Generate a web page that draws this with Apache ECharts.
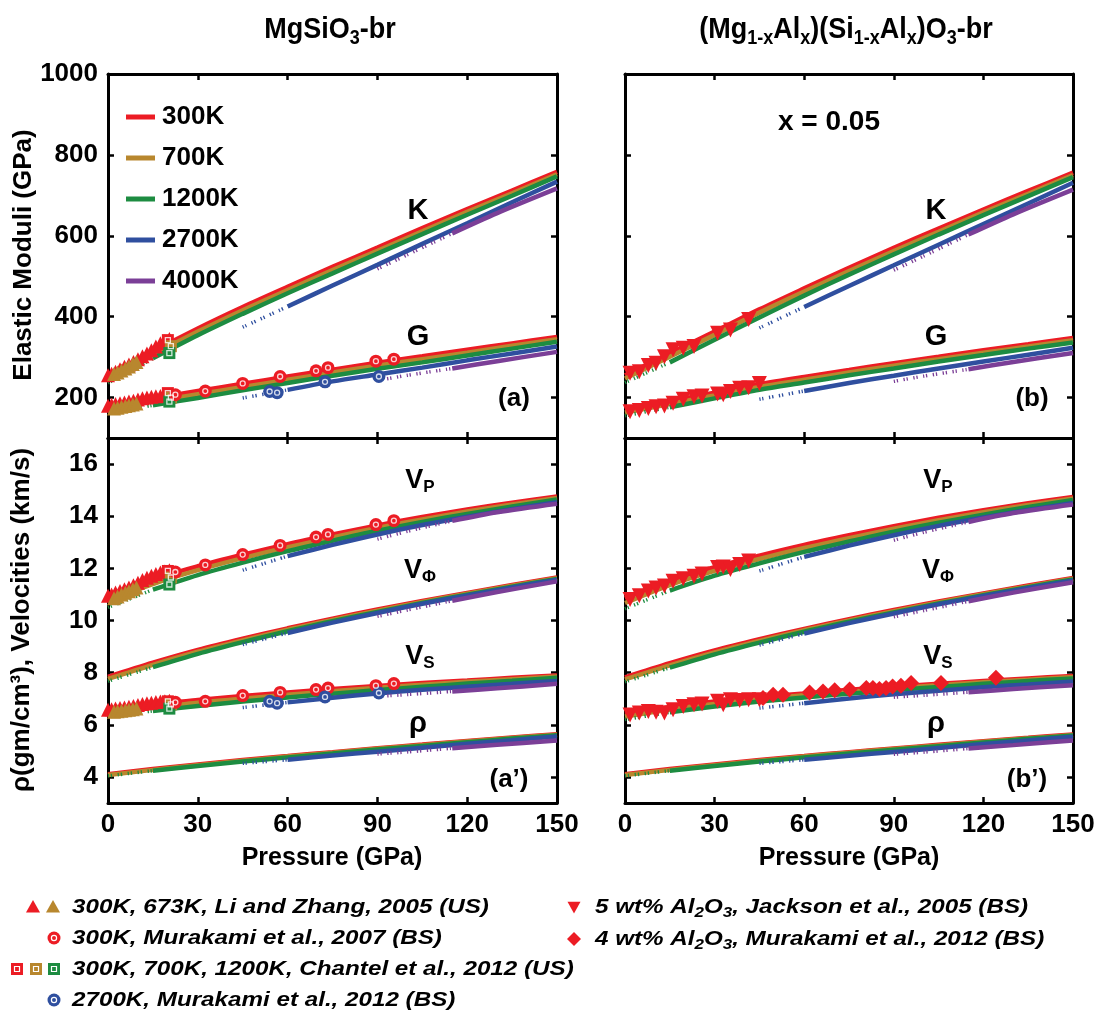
<!DOCTYPE html>
<html><head><meta charset="utf-8">
<script src="https://cdn.jsdelivr.net/npm/echarts@6/dist/echarts.min.js"></script>
<style>html,body{margin:0;padding:0;background:#fff}#chart{width:1106px;height:1017px}</style>
</head><body><div id="chart"></div>
<script>
// ---------- model curves: pressure grids (GPa) ----------
const P_COOL = [0, 15, 30, 45, 60, 75, 90, 105, 120, 135, 150];   // 300K, 700K, 1200K
const P_2700 = [45, 60, 75, 90, 105, 120, 135, 150];
const P_4000 = [90, 100, 115, 130, 150];
const TEMPS = ['300K', '700K', '1200K', '2700K', '4000K'];
const SOLID_FROM = [0, 0, 15, 60, 115];   // below this pressure the curve is drawn dotted

// MgSiO3-br (rows: 300K, 700K, 1200K, 2700K, 4000K)
const K_mg = [
  [253, 314, 371, 424, 474, 523, 571, 619, 666, 712, 758],
  [245, 306, 363, 416, 466, 515, 563, 611, 659, 705, 752],
  [236, 297, 354, 407, 458, 507, 556, 604, 652, 699, 747],
  [374, 425, 477, 528, 580, 631, 683, 734],
  [518, 553, 606, 656, 717]
];
const G_mg = [
  [181, 198, 216, 234, 252, 269, 286, 302, 318, 334, 350],
  [172, 190, 208, 226, 244, 262, 279, 295, 311, 328, 344],
  [163, 181, 199, 218, 236, 254, 271, 287, 304, 321, 338],
  [199, 219, 240, 257, 274, 292, 309, 326],
  [242, 255, 272, 290, 313]
];
const VP_mg = [
  [10.93, 11.58, 12.08, 12.52, 12.93, 13.30, 13.65, 13.97, 14.26, 14.52, 14.76],
  [10.74, 11.40, 11.93, 12.39, 12.81, 13.19, 13.55, 13.88, 14.18, 14.45, 14.70],
  [10.50, 11.18, 11.74, 12.22, 12.66, 13.06, 13.44, 13.78, 14.09, 14.37, 14.64],
  [11.93, 12.47, 12.90, 13.30, 13.66, 13.98, 14.27, 14.54],
  [13.12, 13.42, 13.82, 14.15, 14.48]
];
const VPHI_mg = [
  [7.84, 8.38, 8.87, 9.30, 9.70, 10.07, 10.42, 10.75, 11.06, 11.36, 11.65],
  [7.76, 8.30, 8.80, 9.24, 9.65, 10.02, 10.38, 10.71, 11.03, 11.33, 11.62],
  [7.67, 8.21, 8.72, 9.17, 9.59, 9.97, 10.33, 10.67, 10.99, 11.30, 11.59],
  [9.08, 9.52, 9.92, 10.29, 10.64, 10.96, 11.27, 11.56],
  [10.16, 10.40, 10.76, 11.09, 11.50]
];
const VS_mg = [
  [6.55, 6.78, 6.95, 7.10, 7.24, 7.37, 7.49, 7.60, 7.70, 7.80, 7.89],
  [6.45, 6.66, 6.85, 7.00, 7.15, 7.29, 7.42, 7.54, 7.65, 7.75, 7.85],
  [6.32, 6.53, 6.72, 6.89, 7.05, 7.19, 7.33, 7.46, 7.58, 7.69, 7.80],
  [6.66, 6.86, 7.04, 7.20, 7.34, 7.46, 7.57, 7.68],
  [7.09, 7.16, 7.28, 7.40, 7.57]
];
const RHO_mg = [
  [4.10, 4.30, 4.48, 4.65, 4.80, 4.95, 5.10, 5.24, 5.38, 5.51, 5.64],
  [4.07, 4.27, 4.45, 4.62, 4.78, 4.93, 5.08, 5.22, 5.36, 5.49, 5.62],
  [4.04, 4.24, 4.42, 4.59, 4.75, 4.90, 5.05, 5.19, 5.33, 5.47, 5.60],
  [4.52, 4.66, 4.82, 4.97, 5.12, 5.27, 5.41, 5.55],
  [4.88, 4.96, 5.10, 5.23, 5.40]
];

// (Mg1-xAlx)(Si1-xAlx)O3-br, x = 0.05
const K_al = [
  [255, 309, 363, 418, 470, 521, 570, 618, 665, 711, 756],
  [247, 301, 355, 410, 462, 513, 562, 610, 658, 704, 750],
  [237, 287, 343, 398, 452, 504, 554, 603, 651, 698, 745],
  [372, 424, 476, 527, 578, 629, 680, 731],
  [515, 550, 603, 653, 714]
];
const G_al = [
  [170, 191, 212, 233, 251, 268, 285, 301, 317, 332, 347],
  [163, 184, 205, 226, 244, 262, 279, 295, 311, 326, 342],
  [155, 176, 198, 219, 237, 255, 272, 289, 305, 321, 336],
  [196, 216, 236, 254, 272, 289, 306, 323],
  [240, 253, 270, 288, 310]
];
const VP_al = [
  [10.85, 11.53, 12.05, 12.49, 12.90, 13.27, 13.62, 13.94, 14.23, 14.50, 14.74],
  [10.67, 11.36, 11.90, 12.36, 12.78, 13.16, 13.52, 13.85, 14.15, 14.43, 14.68],
  [10.45, 11.15, 11.72, 12.19, 12.63, 13.03, 13.41, 13.75, 14.06, 14.35, 14.62],
  [11.90, 12.44, 12.87, 13.27, 13.63, 13.95, 14.24, 14.51],
  [13.08, 13.38, 13.78, 14.12, 14.45]
];
const VPHI_al = [
  [7.82, 8.36, 8.85, 9.28, 9.68, 10.05, 10.40, 10.73, 11.04, 11.34, 11.63],
  [7.74, 8.28, 8.78, 9.22, 9.63, 10.00, 10.36, 10.69, 11.01, 11.31, 11.60],
  [7.65, 8.19, 8.70, 9.15, 9.57, 9.95, 10.31, 10.65, 10.97, 11.28, 11.57],
  [9.06, 9.50, 9.90, 10.27, 10.62, 10.94, 11.25, 11.54],
  [10.14, 10.38, 10.74, 11.07, 11.47]
];
const VS_al = [
  [6.40, 6.68, 6.89, 7.06, 7.20, 7.34, 7.46, 7.57, 7.68, 7.78, 7.87],
  [6.32, 6.59, 6.80, 6.98, 7.13, 7.27, 7.40, 7.52, 7.63, 7.73, 7.83],
  [6.20, 6.48, 6.70, 6.89, 7.05, 7.19, 7.33, 7.45, 7.57, 7.68, 7.78],
  [6.64, 6.83, 7.01, 7.17, 7.31, 7.44, 7.55, 7.66],
  [7.06, 7.13, 7.25, 7.37, 7.52]
];
const RHO_al = [
  [4.10, 4.30, 4.48, 4.65, 4.80, 4.95, 5.09, 5.23, 5.37, 5.50, 5.63],
  [4.07, 4.27, 4.45, 4.62, 4.78, 4.93, 5.07, 5.21, 5.35, 5.48, 5.61],
  [4.04, 4.24, 4.42, 4.59, 4.75, 4.90, 5.04, 5.18, 5.32, 5.46, 5.59],
  [4.52, 4.66, 4.81, 4.96, 5.11, 5.26, 5.40, 5.54],
  [4.87, 4.95, 5.09, 5.22, 5.40]
];

// ---------- measurements ----------
// Li and Zhang, 2005 (US), 300K and 673K
const LZ300_P  = [0, 1.2, 2.5, 4, 5.5, 7, 8.5, 10, 11.5, 13, 14.5, 16, 17.5, 19, 20.5];
const LZ300_K  = [255, 259, 264, 270, 276, 282, 288, 295, 302, 309, 317, 326, 334, 340, 345];
const LZ300_G  = [180, 182, 184, 186, 188, 190, 192, 195, 198, 200, 202, 203, 204, 205, 207];
const LZ300_VP = [10.95, 11.00, 11.07, 11.13, 11.20, 11.27, 11.35, 11.45, 11.55, 11.64, 11.72, 11.78, 11.84, 11.88, 11.93];
const LZ300_VS = [6.58, 6.60, 6.62, 6.64, 6.66, 6.69, 6.72, 6.76, 6.80, 6.83, 6.85, 6.87, 6.89, 6.90, 6.92];
const LZ673_P  = [2, 3.2, 4.5, 5.8, 7, 8.3, 9.5];
const LZ673_K  = [258, 262, 267, 272, 277, 283, 288];
const LZ673_G  = [173, 175, 177, 179, 181, 183, 185];
const LZ673_VP = [10.85, 10.92, 11.00, 11.06, 11.12, 11.20, 11.27];
const LZ673_VS = [6.50, 6.52, 6.54, 6.56, 6.58, 6.60, 6.62];
// Murakami et al., 2007 (BS), 300K
const M07_P  = [22.5, 32.5, 45, 57.5, 69.5, 73.5, 89.5, 95.5];
const M07_G  = [207, 216, 235, 252, 266, 274, 290, 295];
const M07_VP = [11.86, 12.13, 12.53, 12.88, 13.20, 13.30, 13.68, 13.83];
const M07_VS = [6.86, 6.90, 7.12, 7.24, 7.35, 7.41, 7.50, 7.58];
// Chantel et al., 2012 (US): 300K, 700K, 1200K
const CH_P  = [20, 21, 20.5];
const CH_K  = [342, 327, 310];
const CH_G  = [211, 200, 190];
const CH_VP = [11.90, 11.65, 11.38];
const CH_VS = [6.90, 6.78, 6.62];
// Murakami et al., 2012 (BS), 2700K
const M12_P  = [54, 56.5, 72.5, 90.5];
const M12_G  = [215, 212, 239, 252];
const M12_VS = [6.90, 6.83, 7.07, 7.22];
// Jackson et al., 2005 (BS), 5 wt% Al2O3
const JK_P  = [1.7, 4.8, 7.8, 10.4, 13.2, 16.1, 19.5, 23.1, 25.8, 31.0, 32.9, 35.3, 38.4, 41.4, 45.0];
const JK_K  = [260, 264, 279, 285, 301, 318, 322, 326, null, 359, null, 367, null, 393, null];
const JK_G  = [165, 168, 173, 177, 179, 186, 196, 202, 204, 209, 207, 215, 223, 224, 235];
const JK_VP = [10.81, 10.95, 11.13, 11.25, 11.32, 11.51, 11.60, 11.70, 11.78, 12.03, 12.05, 11.96, 12.15, 12.28, null];
const JK_VS = [6.38, 6.45, 6.51, 6.48, 6.45, 6.58, 6.70, 6.77, 6.80, 6.90, 6.77, 6.96, 6.93, 6.96, 6.96];
// Murakami et al., 2012 (BS), 4 wt% Al2O3
const MA_P  = [46.2, 49.6, 52.9, 61.8, 66.3, 70.2, 75.2, 80.8, 83.0, 85.2, 87.4, 89.6, 92.4, 95.8, 105.8, 124.2];
const MA_VS = [7.03, 7.15, 7.15, 7.24, 7.28, 7.32, 7.35, 7.41, 7.41, 7.37, 7.41, 7.47, 7.50, 7.60, 7.60, 7.80];

// axis ticks
const MOD_TICKS = [200, 400, 600, 800, 1000];
const VEL_TICKS = [4, 6, 8, 10, 12, 14, 16];

// ---------- styling ----------
const COLORS = ['#ec1c24', '#b8872e', '#1d8c41', '#2f4f9f', '#7b3f97'];
const RED = COLORS[0], TAN = COLORS[1], GREEN = COLORS[2], BLUE = COLORS[3];
const FONT = "'Liberation Sans', Arial, Helvetica, sans-serif";
const GRIDS = [
  { left: 108, top: 74, width: 449, height: 364 },   // (a)
  { left: 108, top: 438, width: 449, height: 365 },  // (a')
  { left: 625, top: 74, width: 448, height: 364 },   // (b)
  { left: 625, top: 438, width: 448, height: 365 }   // (b')
];

const xAxes = [], yAxes = [];
GRIDS.forEach((g, gi) => {
  const lower = gi % 2 === 1;
  const leftCol = gi < 2;
  ['bottom', 'top'].forEach(pos => {
    xAxes.push({
      type: 'value', gridIndex: gi, position: pos, min: 0, max: 150, interval: 30,
      axisLine: { show: true, onZero: false, lineStyle: { color: '#000', width: 3 } },
      axisTick: { show: true, inside: true, length: 6, lineStyle: { color: '#000', width: 2.5 } },
      axisLabel: {
        show: lower && pos === 'bottom', margin: 9, color: '#000',
        fontFamily: FONT, fontWeight: 'bold', fontSize: 26, formatter: v => String(v)
      },
      splitLine: { show: false }
    });
  });
  ['left', 'right'].forEach(pos => {
    const ticks = lower ? VEL_TICKS : MOD_TICKS;
    yAxes.push({
      type: 'value', gridIndex: gi, position: pos,
      min: lower ? 3 : 100, max: lower ? 17 : 1000,
      axisLine: { show: true, onZero: false, lineStyle: { color: '#000', width: 3 } },
      axisTick: { show: true, inside: true, length: 6, customValues: ticks, lineStyle: { color: '#000', width: 2.5 } },
      axisLabel: {
        show: leftCol && pos === 'left', customValues: ticks, margin: 10, color: '#000',
        fontFamily: FONT, fontWeight: 'bold', fontSize: 26, formatter: v => String(v)
      },
      splitLine: { show: false }
    });
  });
});

const series = [];

// model curves: dotted where metastable, solid above
function addCurves(gi, rows) {
  rows.forEach((vals, t) => {
    const P = t < 3 ? P_COOL : (t === 3 ? P_2700 : P_4000);
    const pts = P.map((p, i) => [p, vals[i]]);
    const start = SOLID_FROM[t];
    const base = {
      type: 'line', name: TEMPS[t], xAxisIndex: gi * 2, yAxisIndex: gi * 2,
      showSymbol: false, smooth: 0.3, silent: true, z: 2,
      itemStyle: { color: COLORS[t] }
    };
    const dotted = pts.filter(d => d[0] <= start);
    if (dotted.length > 1) {
      series.push(Object.assign({}, base, {
        data: dotted,
        lineStyle: { color: COLORS[t], width: 3.5, type: [1.3, 1.8, 1.3, 5.5] }
      }));
    }
    series.push(Object.assign({}, base, {
      data: pts.filter(d => d[0] >= start),
      lineStyle: { color: COLORS[t], width: 4.5, type: 'solid' }
    }));
  });
}
[[0, K_mg], [0, G_mg], [1, VP_mg], [1, VPHI_mg], [1, VS_mg], [1, RHO_mg],
 [2, K_al], [2, G_al], [3, VP_al], [3, VPHI_al], [3, VS_al], [3, RHO_al]]
  .forEach(([gi, rows]) => addCurves(gi, rows));

// measured points
function addPoints(gi, P, V, opt) {
  const data = P.map((p, i) => [p, V[i]]).filter(d => d[1] != null);
  series.push({
    type: 'scatter', name: opt.name || 'data', xAxisIndex: gi * 2, yAxisIndex: gi * 2,
    data, symbol: opt.symbol, symbolSize: opt.size, symbolRotate: opt.rotate || 0,
    itemStyle: { color: opt.color, opacity: 1 }, silent: true, z: 5
  });
  if (opt.ring) {
    // small white ring drawn inside the marker
    series.push({
      type: 'scatter', name: 'ring', xAxisIndex: gi * 2, yAxisIndex: gi * 2,
      data, symbol: opt.symbol, symbolSize: opt.ring,
      itemStyle: { color: 'transparent', borderColor: '#fff', borderWidth: 1.3 }, silent: true, z: 6
    });
  }
}
const triUp = c => ({ symbol: 'triangle', size: 14, color: c });
const ringCircle = c => ({ symbol: 'circle', size: 13, color: c, ring: 5 });
const ringSquare = c => ({ symbol: 'rect', size: 12, color: c, ring: 5 });
const triDown = { symbol: 'triangle', size: 15, rotate: 180, color: RED };
const diamond = { symbol: 'diamond', size: 16, color: RED };

[[0, LZ300_K], [0, LZ300_G], [1, LZ300_VP], [1, LZ300_VS]].forEach(([gi, v]) => addPoints(gi, LZ300_P, v, triUp(RED)));
[[0, LZ673_K], [0, LZ673_G], [1, LZ673_VP], [1, LZ673_VS]].forEach(([gi, v]) => addPoints(gi, LZ673_P, v, triUp(TAN)));
[[0, CH_K], [0, CH_G], [1, CH_VP], [1, CH_VS]].forEach(([gi, v]) => {
  [RED, TAN, GREEN].forEach((c, i) => addPoints(gi, [CH_P[i]], [v[i]], ringSquare(c)));
});
[[0, M07_G], [1, M07_VP], [1, M07_VS]].forEach(([gi, v]) => addPoints(gi, M07_P, v, ringCircle(RED)));
[[0, M12_G], [1, M12_VS]].forEach(([gi, v]) => addPoints(gi, M12_P, v, ringCircle(BLUE)));
[[2, JK_K], [2, JK_G], [3, JK_VP], [3, JK_VS]].forEach(([gi, v]) => addPoints(gi, JK_P, v, triDown));
addPoints(3, MA_P, MA_VS, diamond);

// ---------- text ----------
const B = { fontFamily: FONT, fontWeight: 'bold', fill: '#000' };
function txt(x, y, text, size, extra) {
  return Object.assign({
    type: 'text', x, y, silent: true, z: 20,
    style: Object.assign({}, B, { text, fontSize: size, align: 'center', verticalAlign: 'middle' })
  }, extra || {});
}
function rich(x, y, text, richStyles, extra) {
  return Object.assign({
    type: 'text', x, y, silent: true, z: 20,
    style: { text, rich: richStyles, align: 'center', verticalAlign: 'middle' }
  }, extra || {});
}
const titleRich = {
  b: Object.assign({}, B, { fontSize: 30, lineHeight: 36, verticalAlign: 'middle' }),
  s: Object.assign({}, B, { fontSize: 20, lineHeight: 14, verticalAlign: 'bottom' })
};
const velRich = {
  v: Object.assign({}, B, { fontSize: 27, lineHeight: 30, verticalAlign: 'middle' }),
  s: Object.assign({}, B, { fontSize: 17, lineHeight: 8, verticalAlign: 'bottom' })
};
const legRich = {
  t: Object.assign({}, B, { fontStyle: 'italic', fontSize: 20, lineHeight: 26, verticalAlign: 'middle' }),
  s: Object.assign({}, B, { fontStyle: 'italic', fontSize: 14, lineHeight: 10, verticalAlign: 'bottom' })
};

const graphics = [
  rich(330, 30, '{b|MgSiO}{s|3}{b|-br}', titleRich, { scaleX: 0.9 }),
  rich(846, 30, '{b|(Mg}{s|1-x}{b|Al}{s|x}{b|)(Si}{s|1-x}{b|Al}{s|x}{b|)O}{s|3}{b|-br}', titleRich, { scaleX: 0.9 }),
  txt(24, 255, 'Elastic Moduli (GPa)', 26, { rotation: Math.PI / 2 }),
  txt(22, 620, 'ρ(gm/cm³), Velocities (km/s)', 26, { rotation: Math.PI / 2 }),
  txt(332, 858, 'Pressure (GPa)', 25),
  txt(849, 858, 'Pressure (GPa)', 25),
  txt(829, 122, 'x = 0.05', 28)
];
[0, 518].forEach((dx, i) => {
  graphics.push(
    txt(418 + dx, 211, 'K', 29),
    txt(418 + dx, 337, 'G', 29),
    txt(514 + dx, 399, i ? '(b)' : '(a)', 26),
    rich(420 + dx, 481, '{v|V}{s|P}', velRich),
    rich(420 + dx, 571, '{v|V}{s|Φ}', velRich),
    rich(420 + dx, 657, '{v|V}{s|S}', velRich),
    txt(418 + dx, 724, 'ρ', 29),
    txt(509 + dx, 780, i ? '(b’)' : '(a’)', 26)
  );
});

// key for the measured data
function legText(x, y, text) {
  return {
    type: 'text', x, y, silent: true, z: 20, scaleX: 1.21,
    style: { text, rich: legRich, align: 'left', verticalAlign: 'middle' }
  };
}
function tri(cx, cy, r, color, down) {
  const s = down ? -1 : 1;
  return { type: 'polygon', silent: true, z: 20,
    shape: { points: [[cx, cy - s * r], [cx + r, cy + s * r * 0.8], [cx - r, cy + s * r * 0.8]] },
    style: { fill: color } };
}
function ringDot(cx, cy, color) {
  return [
    { type: 'circle', silent: true, z: 20, shape: { cx, cy, r: 6.5 }, style: { fill: color } },
    { type: 'circle', silent: true, z: 21, shape: { cx, cy, r: 2.6 }, style: { fill: 'none', stroke: '#fff', lineWidth: 1.2 } }
  ];
}
function ringBox(cx, cy, color) {
  return [
    { type: 'rect', silent: true, z: 20, shape: { x: cx - 6, y: cy - 6, width: 12, height: 12 }, style: { fill: color } },
    { type: 'rect', silent: true, z: 21, shape: { x: cx - 2.5, y: cy - 2.5, width: 5, height: 5 }, style: { fill: 'none', stroke: '#fff', lineWidth: 1.2 } }
  ];
}
graphics.push(
  tri(33, 907, 7, RED), tri(53, 907, 7, TAN),
  legText(72, 907, '{t|300K, 673K, Li and Zhang, 2005 (US)}'),
  ...ringDot(54, 938, RED),
  legText(72, 938, '{t|300K, Murakami et al., 2007 (BS)}'),
  ...ringBox(17, 969, RED), ...ringBox(36, 969, TAN), ...ringBox(54, 969, GREEN),
  legText(72, 969, '{t|300K, 700K, 1200K, Chantel et al., 2012 (US)}'),
  ...ringDot(54, 1000, BLUE),
  legText(72, 1000, '{t|2700K, Murakami et al., 2012 (BS)}'),
  tri(574, 907, 6.5, RED, true),
  legText(595, 907, '{t|5 wt% Al}{s|2}{t|O}{s|3}{t|, Jackson et al., 2005 (BS)}'),
  { type: 'polygon', silent: true, z: 20, shape: { points: [[574, 932], [581, 939], [574, 946], [567, 939]] }, style: { fill: RED } },
  legText(595, 939, '{t|4 wt% Al}{s|2}{t|O}{s|3}{t|, Murakami et al., 2012 (BS)}')
);

const chart = echarts.init(document.getElementById('chart'), null, { renderer: 'canvas' });
chart.setOption({
  backgroundColor: '#fff',
  animation: false,
  grid: GRIDS.map(g => Object.assign({ containLabel: false }, g)),
  xAxis: xAxes,
  yAxis: yAxes,
  legend: {
    data: TEMPS, orient: 'vertical', left: 121, top: 99,
    icon: 'rect', itemWidth: 29, itemHeight: 5, itemGap: 15,
    textStyle: { fontFamily: FONT, fontWeight: 'bold', fontSize: 26, color: '#000', padding: [0, 0, 0, 2] },
    selectedMode: false
  },
  series,
  graphic: graphics
});
</script></body></html>
